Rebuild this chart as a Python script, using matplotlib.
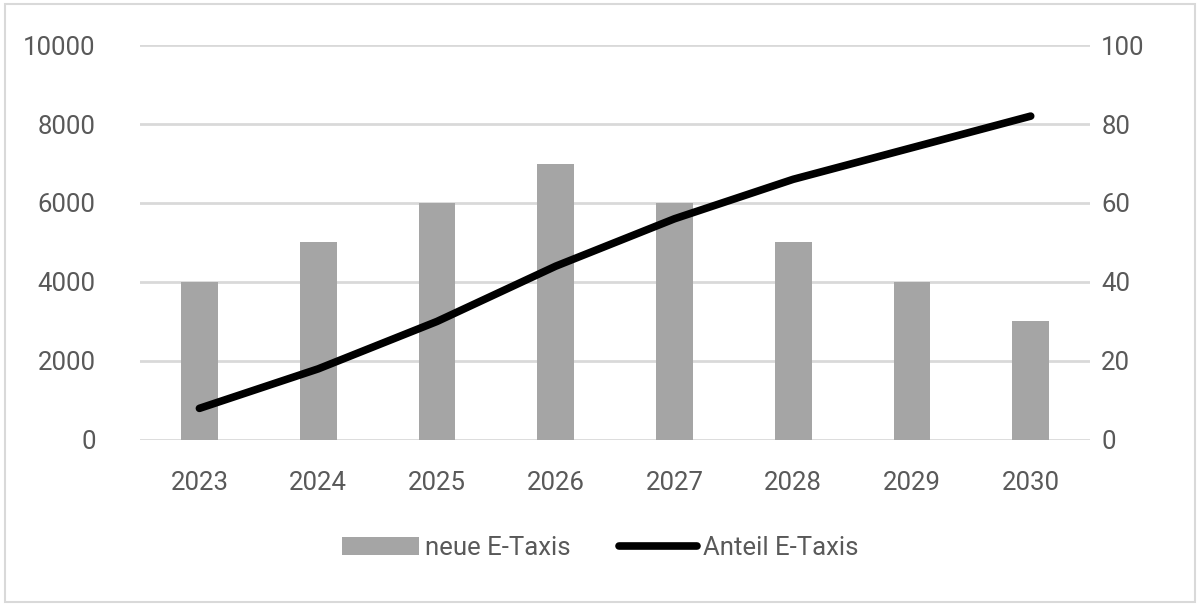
import matplotlib
matplotlib.use("Agg")
import matplotlib.pyplot as plt
from matplotlib.patches import Rectangle

# data
years = ["2023", "2024", "2025", "2026", "2027", "2028", "2029", "2030"]
neue_taxis = [4000, 5000, 6000, 7000, 6000, 5000, 4000, 3000]
anteil = [8, 18, 30, 44, 56, 66, 74, 82]

left_ticks = [0, 2000, 4000, 6000, 8000, 10000]
right_ticks = [0, 20, 40, 60, 80, 100]

txt = "#595959"
fs = 18.5
plt.rcParams["font.family"] = ["Roboto", "DejaVu Sans"]

fig = plt.figure(figsize=(12, 6.06), dpi=100)
fig.patches.append(Rectangle((0.004, 0.006), 0.992, 0.988, transform=fig.transFigure,
                             fill=False, edgecolor="#d9d9d9", linewidth=1.5))

ax = fig.add_axes([0.1167, 0.274, 0.7917, 0.6517])
x = list(range(len(years)))
ax.bar(x, neue_taxis, width=0.31, color="#a5a5a5", label="neue E-Taxis", zorder=2)
ax.set_xlim(-0.5, len(years) - 0.5)
ax.set_ylim(0, 10000)
ax.set_yticks(left_ticks)
ax.set_xticks(x)
ax.set_xticklabels(years)
ax.grid(axis="y", color="#d9d9d9", linewidth=2, zorder=0)
ax.set_axisbelow(True)
for s in ax.spines.values():
    s.set_visible(False)
ax.tick_params(length=0, labelsize=fs, labelcolor=txt)
ax.tick_params(axis="y", pad=32)
ax.tick_params(axis="x", pad=22)

ax2 = ax.twinx()
ax2.plot(x, anteil, color="black", linewidth=5.5, solid_capstyle="round",
         label="Anteil E-Taxis", zorder=3)
ax2.set_ylim(0, 100)
ax2.set_yticks(right_ticks)
for s in ax2.spines.values():
    s.set_visible(False)
ax2.tick_params(length=0, labelsize=fs, labelcolor=txt, pad=8)

h1, l1 = ax.get_legend_handles_labels()
h2, l2 = ax2.get_legend_handles_labels()
leg = fig.legend(h1 + h2, l1 + l2, loc="center", bbox_to_anchor=(0.5, 0.095), ncol=2,
                 frameon=False, fontsize=fs, handlelength=3.0, handletextpad=0.25,
                 columnspacing=1.9)
for t in leg.get_texts():
    t.set_color(txt)

plt.savefig("out.png", dpi=100)
